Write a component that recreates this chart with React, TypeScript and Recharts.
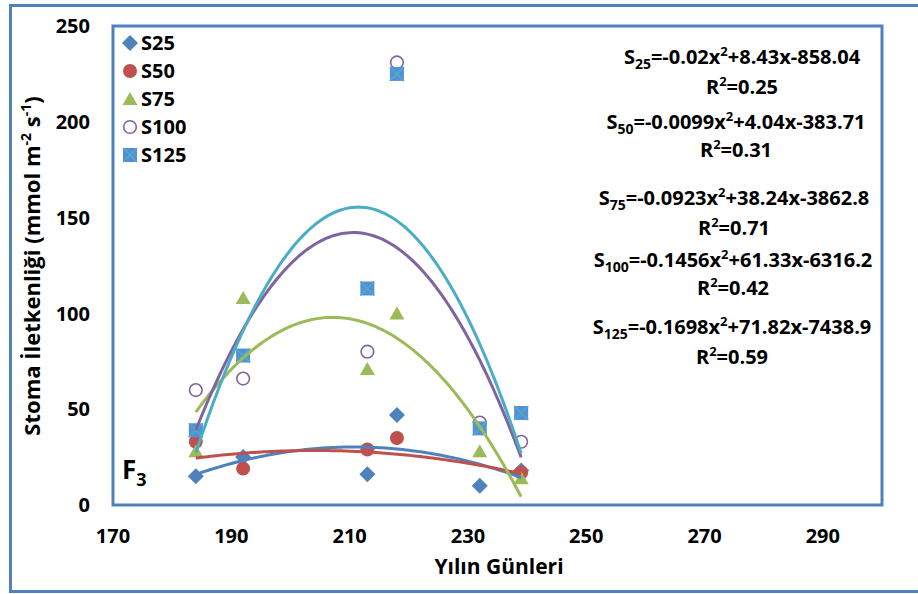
import { ScatterChart, Scatter, XAxis, YAxis, ReferenceArea, Legend } from "recharts";

// sampling days and measured stomatal conductance per salinity level
const DAYS = [184, 192, 213, 218, 232, 239];
const S25 = [15, 25, 16, 47, 10, 18];
const S50 = [33, 19, 29, 35, null, 17];
const S75 = [28, 108, 71, 100, 28, 14];
const S100 = [60, 66, 80, 231, 43, 33];
const S125 = [39, 78, 113, 225, 40, 48];

const SERIES_NAMES = ["S25", "S50", "S75", "S100", "S125"];
const SERIES_SUBS = ["25", "50", "75", "100", "125"];

// second order trend fits: y = a*x^2 + b*x + c
const FIT_S25 = [-0.02, 8.43, -858.04];
const FIT_S50 = [-0.0099, 4.04, -383.71];
const FIT_S75 = [-0.0923, 38.24, -3862.8];
const FIT_S100 = [-0.1456, 61.33, -6316.2];
const FIT_S125 = [-0.1698, 71.82, -7438.9];
const R2 = [0.25, 0.31, 0.71, 0.42, 0.59];

const X_TICKS = [170, 190, 210, 230, 250, 270, 290];
const Y_TICKS = [0, 50, 100, 150, 200, 250];

const FONT = "'Open Sans', sans-serif";
const BLUE = "#4F81BD";
const RED = "#C0504D";
const GREEN = "#9BBB59";
const PURPLE = "#8064A2";
const AQUA = "#4BACC6";
const SQUARE = "#5590D6";

const toPoints = (values: (number | null)[]) =>
  DAYS.map((x, i) => ({ x, y: values[i] })).filter((p) => p.y !== null);

const trendPoints = (fit: number[]) => {
  const pts: { x: number; y: number }[] = [];
  const start = DAYS[0];
  const end = DAYS[DAYS.length - 1];
  for (let x = start; x <= end + 1e-9; x += 0.5) {
    pts.push({ x, y: fit[0] * x * x + fit[1] * x + fit[2] });
  }
  return pts;
};

const fitLabel = (fit: number[]) => `=${fit[0]}x`;
const fitRest = (fit: number[]) => `+${fit[1]}x${fit[2] < 0 ? "" : "+"}${fit[2]}`;

// marker glyphs, shared by the plot and the legend
const Diamond = ({ cx, cy }: any) => (
  <polygon points={`${cx},${cy - 8} ${cx + 8},${cy} ${cx},${cy + 8} ${cx - 8},${cy}`} fill={BLUE} />
);
const Dot = ({ cx, cy }: any) => <circle cx={cx} cy={cy} r={7} fill={RED} />;
const Tri = ({ cx, cy }: any) => (
  <polygon points={`${cx},${cy - 7} ${cx + 7.5},${cy + 6} ${cx - 7.5},${cy + 6}`} fill={GREEN} />
);
const Ring = ({ cx, cy }: any) => (
  <circle cx={cx} cy={cy} r={6.3} fill="none" stroke={PURPLE} strokeWidth={1.6} />
);
const XSquare = ({ cx, cy }: any) => (
  <g>
    <rect x={cx - 7} y={cy - 7} width={14} height={14} fill={SQUARE} />
    <path d={`M${cx - 7},${cy - 7}L${cx + 7},${cy + 7}M${cx + 7},${cy - 7}L${cx - 7},${cy + 7}`} stroke={AQUA} strokeWidth={1.5} />
  </g>
);

const MARKERS: Record<string, any> = { S25: Diamond, S50: Dot, S75: Tri, S100: Ring, S125: XSquare };

// only the measured series get a legend row, in series order
const renderLegend = ({ payload }: any) => {
  const items = (payload || [])
    .filter((item: any) => SERIES_NAMES.includes(item.value))
    .sort((a: any, b: any) => SERIES_NAMES.indexOf(a.value) - SERIES_NAMES.indexOf(b.value));
  return (
    <div style={{ fontFamily: FONT, fontWeight: 700, fontSize: 20, color: "#000" }}>
      {items.map((item: any) => {
        const Marker = MARKERS[item.value];
        return (
          <div key={item.value} style={{ display: "flex", alignItems: "center", height: 28 }}>
            <svg width={20} height={20} style={{ marginRight: 1 }}>
              <Marker cx={10} cy={10} />
            </svg>
            <span style={{ lineHeight: "28px", whiteSpace: "nowrap" }}>{item.value}</span>
          </div>
        );
      })}
    </div>
  );
};

const tickStyle = { fill: "#000", fontSize: 20, fontWeight: 700, fontFamily: FONT };

const EQ_POS = [
  { x: 742, y: 57, ry: 87 },
  { x: 736, y: 122, ry: 150 },
  { x: 734, y: 198, ry: 228 },
  { x: 733, y: 260, ry: 288 },
  { x: 732, y: 327, ry: 357 },
];

export default function App() {
  const fits = [FIT_S25, FIT_S50, FIT_S75, FIT_S100, FIT_S125];
  const values = [S25, S50, S75, S100, S125];
  const colors = [BLUE, RED, GREEN, PURPLE, AQUA];

  return (
    <div
      style={{
        position: "absolute",
        left: 0,
        top: 0,
        width: 918,
        height: 594,
        overflow: "hidden",
        background: "#fff",
        fontFamily: FONT,
      }}
    >
      <div
        style={{
          position: "absolute",
          left: 9,
          top: 4,
          width: 1000,
          height: 589,
          border: `3px solid ${BLUE}`,
          boxSizing: "border-box",
        }}
      />
      <ScatterChart width={918} height={594} margin={{ top: 26, right: 36, bottom: 49, left: 33 }}>
        <XAxis
          type="number"
          dataKey="x"
          domain={[170, 300]}
          ticks={X_TICKS}
          axisLine={false}
          tickLine={false}
          tickSize={0}
          tickMargin={24}
          height={40}
          tick={tickStyle}
          label={{
            content: () => (
              <text x={499} y={574} textAnchor="middle" fontFamily={FONT} fontWeight={700} fontSize={21} fill="#000">
                Yılın Günleri
              </text>
            ),
          }}
        />
        <YAxis
          type="number"
          dataKey="y"
          domain={[0, 250]}
          ticks={Y_TICKS}
          axisLine={false}
          tickLine={false}
          tickSize={0}
          tickMargin={23}
          width={80}
          tick={tickStyle}
          label={{
            content: () => (
              <text
                x={40}
                y={266}
                transform="rotate(-90 40 266)"
                textAnchor="middle"
                fontFamily={FONT}
                fontWeight={700}
                fontSize={22}
                fill="#000"
              >
                <tspan>Stoma İletkenliği (mmol m</tspan>
                <tspan dy={-9} fontSize={14}>-2</tspan>
                <tspan dy={9}> s</tspan>
                <tspan dy={-9} fontSize={14}>-1</tspan>
                <tspan dy={9}>)</tspan>
              </text>
            ),
          }}
        />
        <ReferenceArea x1={170} x2={300} y1={0} y2={250} fill="none" stroke={BLUE} strokeWidth={3} />
        {SERIES_NAMES.map((name, i) => (
          <Scatter
            key={name}
            name={name}
            data={toPoints(values[i])}
            shape={MARKERS[name]}
            fill={colors[i]}
            isAnimationActive={false}
          />
        ))}
        {SERIES_NAMES.map((name, i) => (
          <Scatter
            key={`${name}-fit`}
            name={`${name} fit`}
            data={trendPoints(fits[i])}
            line={{ stroke: colors[i], strokeWidth: 3 }}
            lineType="joint"
            shape={() => null}
            legendType="none"
            isAnimationActive={false}
          />
        ))}
        <Legend
          layout="vertical"
          align="center"
          verticalAlign="middle"
          content={renderLegend}
          wrapperStyle={{ left: 120, top: 29, width: 90, height: 150 }}
        />
      </ScatterChart>

      {/* trend equations */}
      {SERIES_SUBS.map((sub, i) => (
        <div key={sub}>
          <div
            style={{
              position: "absolute",
              left: EQ_POS[i].x - 200,
              top: EQ_POS[i].y - 14,
              width: 400,
              height: 28,
              lineHeight: "28px",
              textAlign: "center",
              fontWeight: 700,
              fontSize: 20,
              color: "#000",
              whiteSpace: "nowrap",
            }}
          >
            S<span style={{ fontSize: 14, position: "relative", top: 5 }}>{sub}</span>
            {fitLabel(fits[i])}
            <span style={{ fontSize: 13, position: "relative", top: -8 }}>2</span>
            {fitRest(fits[i])}
          </div>
          <div
            style={{
              position: "absolute",
              left: EQ_POS[i].x - 200,
              top: EQ_POS[i].ry - 14,
              width: 400,
              height: 28,
              lineHeight: "28px",
              textAlign: "center",
              fontWeight: 700,
              fontSize: 20,
              color: "#000",
            }}
          >
            R<span style={{ fontSize: 13, position: "relative", top: -8 }}>2</span>={R2[i]}
          </div>
        </div>
      ))}

      <div
        style={{
          position: "absolute",
          left: 122,
          top: 452,
          fontWeight: 700,
          fontSize: 26,
          lineHeight: "34px",
          color: "#000",
        }}
      >
        F<span style={{ fontSize: 18, position: "relative", top: 7 }}>3</span>
      </div>
    </div>
  );
}
